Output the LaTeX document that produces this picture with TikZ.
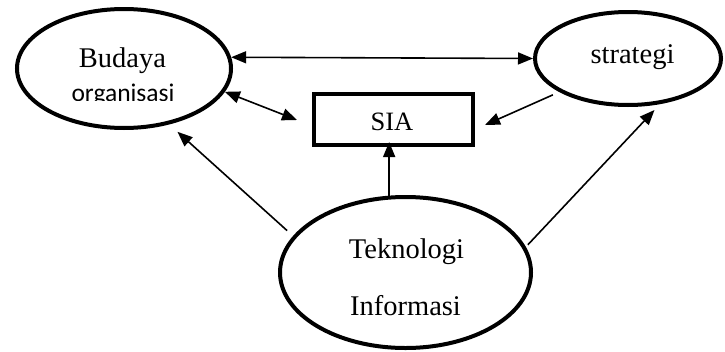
\documentclass[tikz,border=0pt]{standalone}
\usepackage{fontspec}
\setmainfont{Liberation Serif}
\newfontfamily\carlitofont{Carlito}
\usetikzlibrary{arrows.meta,shapes.geometric,calc}
\begin{document}
\begin{tikzpicture}[x=1pt,y=-1pt,
  oval/.style={ellipse, draw, line width=4pt, inner sep=0pt},
  boxed/.style={rectangle, draw, line width=4pt, inner sep=0pt},
  conn/.style={line width=1.6pt},
  tip/.style={-{Triangle[length=15pt,width=12pt]}},
  both/.style={{Triangle[length=15pt,width=12pt]}-{Triangle[length=15pt,width=12pt]}},
  txt/.style={anchor=base, inner sep=0pt, font=\fontsize{28.5}{34}\selectfont}]
\useasboundingbox (0,0) rectangle (725,351);
% shapes
\node[oval, minimum width=214pt, minimum height=119pt] (bud) at (124,68.5) {};
\node[oval, minimum width=186pt, minimum height=93pt] (str) at (628,58.5) {};
\node[boxed, minimum width=159pt, minimum height=51pt] (sia) at (393.5,119.5) {};
\node[oval, minimum width=251pt, minimum height=151pt] (tek) at (405.5,272.5) {};
% texts
\node[txt] (budt) at (122.5,67) {Budaya};
\begin{scope}
  \clip (50,70) rectangle (200,100);
  \node[anchor=base, inner sep=0pt, font=\carlitofont\fontsize{25.5}{30}\selectfont] (orgt) at (123,101.5) {organisasi};
\end{scope}
\node[txt] (strt) at (632.5,63) {strategi};
\node[txt, font=\fontsize{26.5}{32}\selectfont] (siat) at (392,130) {SIA};
\node[txt] (tekt) at (406.5,258) {Teknologi};
\node[txt] (inft) at (405.5,315) {Informasi};
% connectors
\draw[conn, both] (bud.6) -- (str.180);
\draw[conn, both] (bud.-13) -- ($(sia.west)+(-15,0.5)$);
\draw[conn, tip, shorten <=7pt] (str.206) -- ($(sia.east)+(10,5.5)$);
\draw[conn, tip] (tek.102) -- ($(tek.102 |- sia.south)+(0,-5)$);
\draw[conn, tip, shorten <=8pt, shorten >=11pt] (tek.162) -- (bud.-51);
\draw[conn, tip, shorten <=3pt, shorten >=8pt] (tek.12) -- (str.-55);
\end{tikzpicture}
\end{document}
